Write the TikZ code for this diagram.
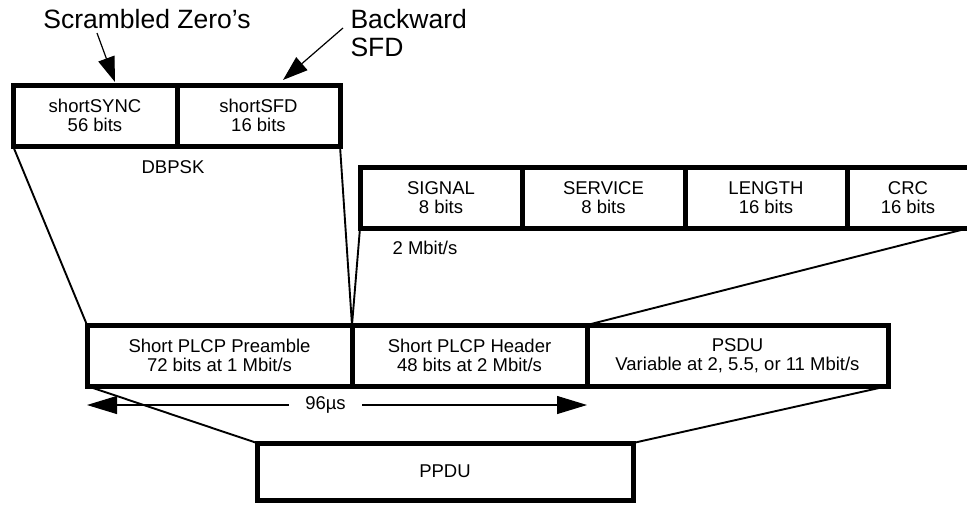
\documentclass[tikz,border=0pt]{standalone}
\usepackage{fontspec}
\setmainfont{Liberation Sans}
\usetikzlibrary{positioning,arrows.meta}

\tikzset{
  field/.style={draw, line width=5pt, inner sep=0pt, outer sep=0pt,
    minimum height=61pt, align=center, font=\fontsize{18.5}{18.5}\selectfont},
  link/.style={line width=1.9pt},
  callout/.style={line width=1.2pt, -{Triangle[length=25pt,width=17pt]}},
  span/.style={line width=1.1pt,
    {Triangle[length=30pt,width=18pt]}-{Triangle[length=30pt,width=18pt]}},
  note/.style={font=\fontsize{18.5}{18.5}\selectfont},
  bignote/.style={font=\fontsize{26.5}{28}\selectfont, align=left}
}

\begin{document}
\begin{tikzpicture}[x=1pt,y=-1pt]
\useasboundingbox (0,0) rectangle (967,504);

% preamble fields
\node[field, anchor=north west, minimum width=164pt] (sync) at (13,85) {shortSYNC\\56 bits};
\node[field, minimum width=163pt, right=0pt of sync] (sfd) {shortSFD\\16 bits};
\node[note] (dbpsk) at (173,167) {DBPSK};

% header fields
\node[field, anchor=north west, minimum width=162pt] (signal) at (360,167) {SIGNAL\\8 bits};
\node[field, minimum width=163pt, right=0pt of signal] (service) {SERVICE\\8 bits};
\node[field, minimum width=162pt, right=0pt of service] (length) {LENGTH\\16 bits};
\node[field, minimum width=122pt, right=0pt of length] (crc) {CRC\\16 bits};
\node[note] (rate) at (425,248) {2 Mbit/s};

% PPDU
\node[field, anchor=north west, minimum width=265pt] (preamble) at (87,325) {Short PLCP Preamble\\72 bits at 1 Mbit/s};
\node[field, minimum width=235pt, right=0pt of preamble] (header) {Short PLCP Header\\48 bits at 2 Mbit/s};
\node[field, minimum width=301pt, right=0pt of header] (psdu) {PSDU\\Variable at 2, 5.5, or 11 Mbit/s};
\node[field, anchor=north west, minimum width=376pt, minimum height=57pt] (ppdu) at (257,443) {PPDU};

% callouts
\node[bignote] (zeros) at (147,19) {Scrambled Zero's};
\node[bignote, anchor=west] (backsfd) at (347,33) {Backward\\SFD};
\coordinate (zerostail) at (97,33);
\coordinate (zerostip) at (115,82);
\coordinate (sfdtail) at (343,28);
\coordinate (sfdtip) at (283,80);
\draw[callout] (zerostail) -- (zerostip);
\draw[callout] (sfdtail) -- (sfdtip);

% expansion lines
\draw[link] (sync.south west) -- (preamble.north west);
\draw[link] (sfd.south east) -- (preamble.north east);
\draw[link] (signal.south west) -- (preamble.north east);
\draw[link] (crc.south east) -- (header.north east);
\draw[link] (preamble.south west) -- (ppdu.north west);
\draw[link] (psdu.south east) -- (ppdu.north east);

% duration
\draw[span] ([yshift=-19pt]preamble.south west) -- ([yshift=-19pt]header.south east)
  node[note, pos=0.477, fill=white, inner xsep=16pt] (time) {96µs};
\end{tikzpicture}
\end{document}
